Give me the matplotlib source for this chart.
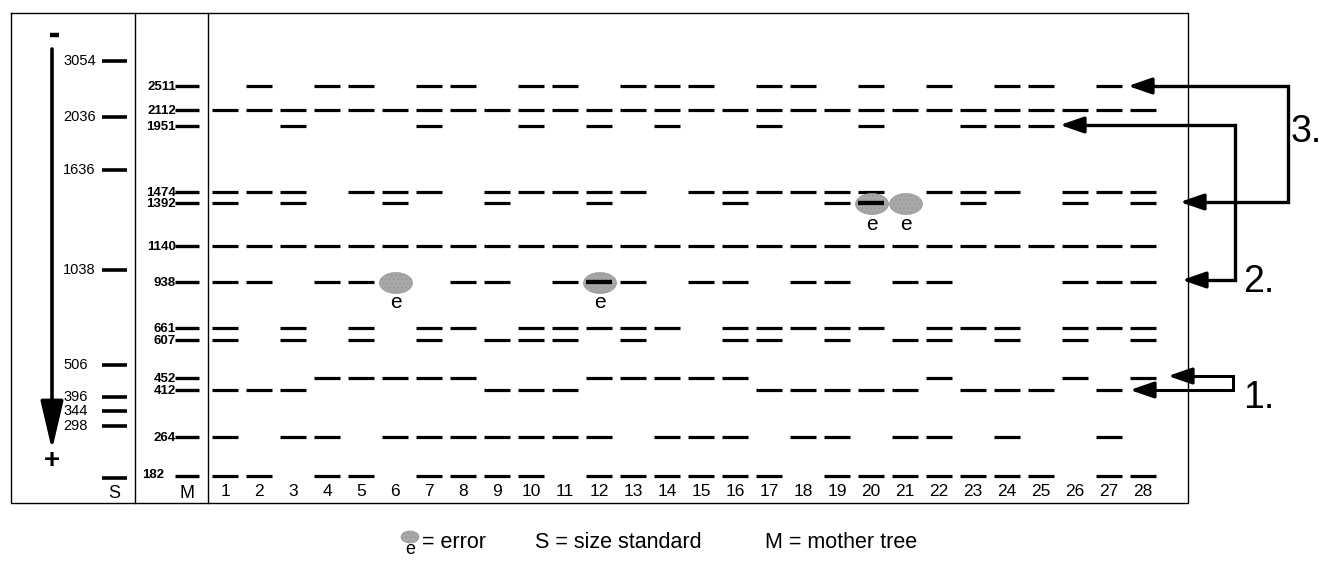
import matplotlib
matplotlib.use("Agg")
import matplotlib.pyplot as plt
from matplotlib.patches import Ellipse

plt.rcParams['font.family'] = ['Liberation Sans', 'DejaVu Sans']

# ---------------- data ----------------
size_std_labels = ['3054', '2036', '1636', '1038', '506', '396', '344', '298', '']
size_std_migration = [61, 117, 170, 270, 365, 397, 411, 426, 478]

marker_labels = ['2511', '2112', '1951', '1474', '1392', '1140', '938',
                 '661', '607', '452', '412', '264', '182']
marker_migration = [86, 110, 126, 192, 203, 246, 282, 328, 340, 378, 390, 437, 476]

lanes = list(range(1, 29))
lane_labels = [str(l) for l in lanes]

bands_2511 = [2, 4, 5, 7, 8, 10, 11, 13, 14, 15, 17, 18, 20, 22, 24, 25, 27]
bands_2112 = list(range(1, 29))
bands_1951 = [3, 7, 10, 12, 14, 17, 20, 23, 24, 25]
bands_1474 = [1, 2, 3, 5, 6, 7, 9, 10, 11, 12, 13, 15, 16, 17, 18, 19, 20, 22, 23, 24, 26, 27, 28]
bands_1392 = [1, 3, 6, 9, 12, 16, 19, 20, 23, 26, 28]
bands_1140 = list(range(1, 29))
bands_938 = [1, 2, 4, 5, 8, 9, 11, 12, 13, 15, 16, 18, 19, 21, 22, 26, 27, 28]
bands_661 = [1, 3, 5, 7, 8, 10, 11, 12, 13, 14, 16, 17, 18, 19, 20, 22, 23, 24, 26, 27, 28]
bands_607 = [1, 3, 5, 7, 9, 10, 11, 13, 16, 17, 19, 21, 22, 24, 26, 28]
bands_452 = [4, 5, 6, 7, 8, 12, 13, 14, 15, 16, 22, 26, 28]
bands_412 = [1, 2, 3, 9, 10, 11, 17, 18, 19, 20, 21, 23, 24, 25, 27]
bands_264 = [1, 3, 4, 6, 7, 8, 9, 10, 11, 12, 14, 15, 16, 18, 19, 21, 22, 24, 27]
bands_182 = [1, 2, 4, 5, 7, 8, 9, 10, 12, 13, 14, 15, 16, 17, 19, 20, 21, 22, 23, 24, 25, 27, 28]

lane_bands = [bands_2511, bands_2112, bands_1951, bands_1474, bands_1392, bands_1140,
              bands_938, bands_661, bands_607, bands_452, bands_412, bands_264, bands_182]

error_lanes = [6, 12, 20, 21]
error_rows = ['938', '938', '1392', '1392']

legend_texts = ['= error', 'S = size standard', 'M = mother tree']

# ---------------- layout ----------------
W, H = 1330, 577
fig = plt.figure(figsize=(W / 100, H / 100), dpi=100)
ax = fig.add_axes([0, 0, 1, 1])
ax.set_xlim(0, W)
ax.set_ylim(H, 0)
ax.axis('off')

lane_x0, lane_dx, band_half = 225, 34, 13
band_lw = 2.3


def lane_x(k):
    return lane_x0 + (k - 1) * lane_dx


# frame
box_l, box_r, box_t, box_b = 11, 1188, 13, 503
ax.plot([box_l, box_r, box_r, box_l, box_l], [box_t, box_t, box_b, box_b, box_t],
        color='black', lw=1.0)
ax.plot([135, 135], [box_t, box_b], color='black', lw=1.0)
ax.plot([208, 208], [box_t, box_b], color='black', lw=1.0)

# size standard panel
for lab, y in zip(size_std_labels, size_std_migration):
    ax.hlines(y, 102, 127, color='black', lw=2.6)
    if lab:
        ax.text(63, y, lab, ha='left', va='center', fontsize=10.5)
ax.text(114, 493, 'S', ha='center', va='center', fontsize=13)

# migration arrow
ax.annotate('', xy=(52, 450), xytext=(52, 49),
            arrowprops=dict(arrowstyle='-|>,head_length=1.5,head_width=0.35',
                            lw=2.6, color='black', mutation_scale=20,
                            shrinkA=0, shrinkB=0))
ax.hlines(35, 50, 59, color='black', lw=3.2)
ax.text(52, 461, '+', ha='center', va='center', fontsize=20, fontweight='bold')

# mother tree panel
for lab, y in zip(marker_labels, marker_migration):
    ax.hlines(y, 175, 199, color='black', lw=2.4)
    if lab == '182':
        ax.text(164, y - 1, lab, ha='right', va='center', fontsize=9.5, fontweight='bold')
    else:
        ax.text(176, y + 1, lab, ha='right', va='center', fontsize=9.5, fontweight='bold')
ax.text(187, 493, 'M', ha='center', va='center', fontsize=13)

# lanes
for lab, y, lst in zip(marker_labels, marker_migration, lane_bands):
    for k in lst:
        x = lane_x(k)
        ax.hlines(y, x - band_half, x + band_half, color='black', lw=band_lw)

for k, lab in zip(lanes, lane_labels):
    ax.text(lane_x(k), 492, lab, ha='center', va='center', fontsize=12.5)

# errors
row_y = dict(zip(marker_labels, marker_migration))
for k, r in zip(error_lanes, error_rows):
    x, y = lane_x(k), row_y[r]
    ax.add_patch(Ellipse((x + 1, y + 1), 33, 21, facecolor='#a8a8a8', edgecolor='#9a9a9a',
                         hatch='....', lw=0.5, zorder=3))
    if (r == '938' and k in bands_938) or (r == '1392' and k in bands_1392):
        ax.hlines(y, x - band_half, x + band_half, color='black', lw=band_lw + 0.8, zorder=4)
    ax.text(x + 1, y + 21, 'e', ha='center', va='center', fontsize=15, zorder=5)

# right-hand annotation arrows
arrow_kw = dict(arrowstyle='-|>,head_length=1.3,head_width=0.45', lw=2.4, color='black',
                mutation_scale=11, shrinkA=0, shrinkB=0)
# 3.
ax.plot([1140, 1288, 1288, 1192], [86, 86, 202, 202], color='black', lw=2.4,
        solid_joinstyle='miter')
ax.annotate('', xy=(1128, 86), xytext=(1150, 86), arrowprops=arrow_kw)
ax.annotate('', xy=(1180, 202), xytext=(1202, 202), arrowprops=arrow_kw)
ax.text(1291, 132, '3.', ha='left', va='center', fontsize=27)
# 2.
ax.plot([1072, 1235, 1235, 1194], [125, 125, 280, 280], color='black', lw=2.4,
        solid_joinstyle='miter')
ax.annotate('', xy=(1060, 125), xytext=(1082, 125), arrowprops=arrow_kw)
ax.annotate('', xy=(1182, 280), xytext=(1204, 280), arrowprops=arrow_kw)
ax.text(1243, 282, '2.', ha='left', va='center', fontsize=27)
# 1.
ax.plot([1180, 1233, 1233, 1142], [376, 376, 390, 390], color='black', lw=2.2,
        solid_joinstyle='miter')
ax.annotate('', xy=(1168, 376), xytext=(1190, 376), arrowprops=arrow_kw)
ax.annotate('', xy=(1130, 390), xytext=(1152, 390), arrowprops=arrow_kw)
ax.text(1243, 398, '1.', ha='left', va='center', fontsize=27)

# legend
ax.add_patch(Ellipse((410, 537), 18, 12, facecolor='#a8a8a8', edgecolor='#9a9a9a',
                     hatch='....', lw=0.5))
ax.text(410, 550, 'e', ha='center', va='center', fontsize=13)
for txt, x in zip(legend_texts, [422, 535, 765]):
    ax.text(x, 543, txt, ha='left', va='center', fontsize=15.5)

fig.savefig('out.png', dpi=100)
